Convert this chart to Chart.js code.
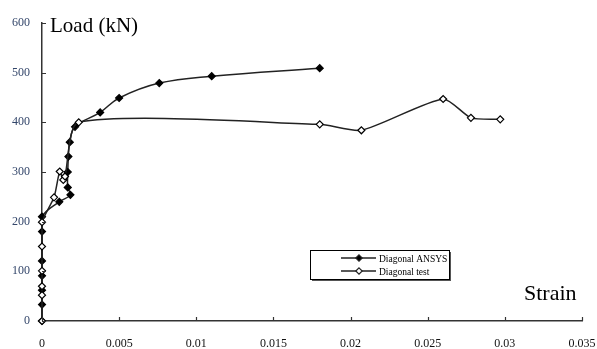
<!DOCTYPE html>
<html>
<head>
<meta charset="utf-8">
<script src="https://cdn.jsdelivr.net/npm/chart.js@4.4.0/dist/chart.umd.min.js"></script>
<style>
  html, body { margin: 0; padding: 0; background: #fff; }
  #wrap { width: 597px; height: 349px; position: relative; }
</style>
</head>
<body>
<div id="wrap"><canvas id="chart" width="597" height="349"></canvas></div>
<script>
// dados (deformação x carga)
const ansysStrain = [0, 0, 0, 0, 0, 0, 0, 0.00112, 0.00184, 0.00167, 0.00167, 0.00171, 0.0018, 0.00214, 0.00377, 0.005, 0.0076, 0.011, 0.018];
const ansysLoad   = [0, 33, 62, 91, 121, 180, 210, 240, 254, 269, 300, 331, 360, 391, 420, 449, 479, 493, 509];

const testStrain = [0, 0, 0, 0, 0, 0, 0.00078, 0.00115, 0.00138, 0.00149, 0.00238, 0.018, 0.0207, 0.026, 0.0278, 0.0297];
const testLoad   = [0, 52, 70, 101, 150, 199, 249, 301, 284, 291, 400, 396, 384, 447, 409, 406];

const xTicks = [0, 0.005, 0.01, 0.015, 0.02, 0.025, 0.03, 0.035];
const yTicks = [0, 100, 200, 300, 400, 500, 600];

const seriesLabels = ['Diagonal ANSYS', 'Diagonal test'];
const yTitle = 'Load (kN)';
const xTitle = 'Strain';

const toPoints = (xs, ys) => xs.map((x, i) => ({ x: x, y: ys[i] }));

// marcas de escala para dentro + títulos + legenda em caixa
const extras = {
    id: 'extras',
    afterDraw(chart) {
        const ctx = chart.ctx;
        const xs = chart.scales.x, ys = chart.scales.y;
        const area = chart.chartArea;
        ctx.save();
        ctx.strokeStyle = '#333';
        ctx.lineWidth = 1.2;
        ctx.beginPath();
        xTicks.forEach(v => {
            const px = Math.round(xs.getPixelForValue(v)) + 0.5;
            ctx.moveTo(px, area.bottom);
            ctx.lineTo(px, area.bottom - 4);
        });
        yTicks.forEach(v => {
            const py = Math.round(ys.getPixelForValue(v)) + 0.5;
            ctx.moveTo(area.left, py);
            ctx.lineTo(area.left + 4, py);
        });
        ctx.stroke();

        ctx.fillStyle = '#000';
        ctx.font = '21px "Liberation Serif", "Times New Roman", serif';
        ctx.textBaseline = 'alphabetic';
        ctx.textAlign = 'left';
        ctx.fillText(yTitle, 50, 32);
        ctx.font = '22px "Liberation Serif", "Times New Roman", serif';
        ctx.fillText(xTitle, 524, 300);

        // legenda
        const bx = 310, by = 250, bw = 139, bh = 29;
        ctx.fillStyle = '#555';
        ctx.fillRect(bx + 2, by + 2, bw, bh);
        ctx.fillStyle = '#fff';
        ctx.fillRect(bx, by, bw, bh);
        ctx.strokeStyle = '#000';
        ctx.lineWidth = 1;
        ctx.strokeRect(bx + 0.5, by + 0.5, bw, bh);

        ctx.font = '9.5px "Liberation Serif", "Times New Roman", serif';
        ctx.textBaseline = 'middle';
        chart.data.datasets.forEach((ds, i) => {
            const cy = by + 8 + i * 13;
            ctx.strokeStyle = '#222';
            ctx.lineWidth = 1.5;
            ctx.beginPath();
            ctx.moveTo(341, cy);
            ctx.lineTo(376, cy);
            ctx.stroke();
            ctx.beginPath();
            const r = 3.2;
            ctx.moveTo(359, cy - r);
            ctx.lineTo(359 + r, cy);
            ctx.lineTo(359, cy + r);
            ctx.lineTo(359 - r, cy);
            ctx.closePath();
            ctx.fillStyle = ds.pointBackgroundColor;
            ctx.fill();
            ctx.lineWidth = 1.2;
            ctx.stroke();
            ctx.fillStyle = '#000';
            ctx.fillText(ds.label, 379, cy + 1);
        });
        ctx.restore();
    }
};

const lineStyle = {
    borderColor: '#222',
    borderWidth: 1.5,
    pointStyle: 'rectRot',
    pointRadius: 3.5,
    pointBorderColor: '#000',
    pointBorderWidth: 1.2,
    showLine: true,
    fill: false,
    clip: false
};

new Chart(document.getElementById('chart').getContext('2d'), {
    type: 'scatter',
    data: {
        datasets: [
            Object.assign({ label: seriesLabels[0], data: toPoints(ansysStrain, ansysLoad), pointBackgroundColor: '#000', tension: 0.4, order: 2 }, lineStyle),
            Object.assign({ label: seriesLabels[1], data: toPoints(testStrain, testLoad), pointBackgroundColor: '#fff', tension: 0.22, order: 1 }, lineStyle)
        ]
    },
    options: {
        responsive: false,
        animation: false,
        devicePixelRatio: 1,
        layout: { padding: { top: 23, right: 15, left: 0, bottom: 0 } },
        plugins: { legend: { display: false }, tooltip: { enabled: false } },
        scales: {
            x: {
                type: 'linear',
                min: 0, max: 0.035,
                afterBuildTicks: s => { s.ticks = xTicks.map(v => ({ value: v })); },
                afterFit: s => { s.height = 28; s.paddingLeft = 0; s.paddingRight = 0; },
                grid: { display: false, drawTicks: false },
                border: { display: true, color: '#333', width: 1.5 },
                ticks: {
                    padding: 16,
                    color: '#111',
                    font: { family: '"Liberation Serif", "Times New Roman", serif', size: 12 },
                    callback: v => String(v)
                }
            },
            y: {
                type: 'linear',
                min: 0, max: 600,
                afterBuildTicks: s => { s.ticks = yTicks.map(v => ({ value: v })); },
                afterFit: s => { s.width = 42; s.paddingTop = 0; s.paddingBottom = 0; },
                grid: { display: false, drawTicks: false },
                border: { display: true, color: '#333', width: 1.5 },
                ticks: {
                    padding: 12,
                    color: '#33466a',
                    font: { family: '"Liberation Serif", "Times New Roman", serif', size: 12 }
                }
            }
        }
    },
    plugins: [extras]
});
</script>
</body>
</html>
